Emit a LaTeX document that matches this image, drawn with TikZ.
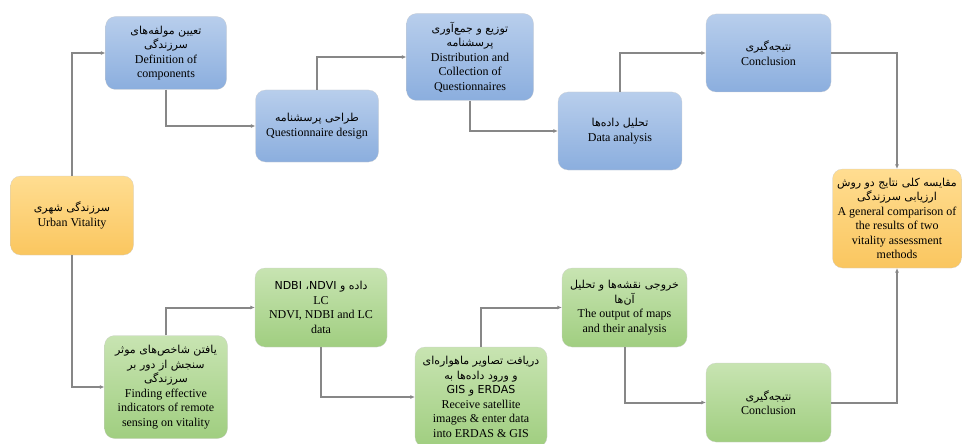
\documentclass[tikz,border=0pt]{standalone}
\usepackage{fontspec}
\setmainfont{Liberation Serif}
\newfontfamily\fafont[Script=Arabic]{DejaVu Sans}
\TeXXeTstate=1
\usepackage{tikz}
\usetikzlibrary{arrows.meta,positioning}
\definecolor{vtbluetop}{RGB}{184,206,236}
\definecolor{vtbluebot}{RGB}{139,174,222}
\definecolor{vtgreentop}{RGB}{200,228,178}
\definecolor{vtgreenbot}{RGB}{160,206,128}
\definecolor{vtorangetop}{RGB}{255,221,145}
\definecolor{vtorangebot}{RGB}{250,198,95}
\definecolor{vtline}{RGB}{135,135,135}
\newcommand{\fa}[1]{{\fafont\fontsize{11}{15}\selectfont\beginR #1\endR}}
\newcommand{\la}[1]{\beginL #1\endL}

\begin{document}
\begin{tikzpicture}[
  x=1pt, y=-1pt,
  every node/.style={font=\fontsize{12}{14.5}\selectfont},
  box/.style={rounded corners=10pt,align=center,inner sep=1pt,draw=white!60!gray,very thin},
  bluebox/.style={box,top color=vtbluetop,bottom color=vtbluebot},
  greenbox/.style={box,top color=vtgreentop,bottom color=vtgreenbot},
  orangebox/.style={box,top color=vtorangetop,bottom color=vtorangebot},
  arr/.style={-{Latex[length=4.5pt,width=4pt]},draw=vtline,line width=2pt}
]
\useasboundingbox (0,0) rectangle (962,444);
% start
\node[orangebox,minimum width=123,minimum height=79] (uv) at (72,215.5)
  {\fa{سرزندگی شهری}\\Urban Vitality};
% questionnaire branch
\node[bluebox,minimum width=121,minimum height=73] (def) at (166,53)
  {\fa{تعیین مولفه‌های}\\\fa{سرزندگی}\\Definition of\\components};
\node[bluebox,minimum width=123,minimum height=72] (qd) at (317,126)
  {\fa{طراحی پرسشنامه}\\Questionnaire design};
\node[bluebox,minimum width=127,minimum height=87] (dist) at (470,57)
  {\fa{توزیع و جمع‌آوری}\\\fa{پرسشنامه}\\Distribution and\\Collection of\\Questionnaires};
\node[bluebox,minimum width=124,minimum height=78] (da) at (620,131)
  {\fa{تحلیل داده‌ها}\\Data analysis};
\node[bluebox,minimum width=125,minimum height=78] (c1) at (768.5,53)
  {\fa{نتیجه‌گیری}\\Conclusion};
% comparison
\node[orangebox,minimum width=129,minimum height=99] (comp) at (897,218.5)
  {\fa{مقایسه کلی نتایج دو روش}\\\fa{ارزیابی سرزندگی}\\A general comparison of\\the results of two\\vitality assessment\\methods};
% remote sensing branch
\node[greenbox,minimum width=123,minimum height=103] (find) at (166,387)
  {\fa{یافتن شاخص‌های موثر}\\\fa{سنجش از دور بر}\\\fa{سرزندگی}\\Finding effective\\indicators of remote\\sensing on vitality};
\node[greenbox,minimum width=132,minimum height=79] (ndvi) at (321,307.5)
  {\fa{داده و \la{NDVI}، \la{NDBI}}\\LC\\NDVI, NDBI and LC\\data};
\node[greenbox,minimum width=132,minimum height=100] (recv) at (481,397)
  {\fa{دریافت تصاویر ماهواره‌ای}\\\fa{و ورود داده‌ها به}\\\fa{\la{ERDAS} و \la{GIS}}\\Receive satellite\\images \& enter data\\into ERDAS \& GIS};
\node[greenbox,minimum width=125,minimum height=79] (out) at (624.5,307.5)
  {\fa{خروجی نقشه‌ها و تحلیل}\\\fa{آن‌ها}\\The output of maps\\and their analysis};
\node[greenbox,minimum width=125,minimum height=79] (c2) at (768.5,402.5)
  {\fa{نتیجه‌گیری}\\Conclusion};
% connectors
\draw[arr] (uv.north) |- (def.west);
\draw[arr] (uv.south) |- (find.west);
\draw[arr] (def.south) |- (qd.west);
\draw[arr] (qd.north) |- (dist.west);
\draw[arr] (dist.south) |- (da.west);
\draw[arr] (da.north) |- (c1.west);
\draw[arr] (c1.east) -| (comp.north);
\draw[arr] (find.north) |- (ndvi.west);
\draw[arr] (ndvi.south) |- (recv.west);
\draw[arr] (recv.north) |- (out.west);
\draw[arr] (out.south) |- (c2.west);
\draw[arr] (c2.east) -| (comp.south);
\end{tikzpicture}
\end{document}
